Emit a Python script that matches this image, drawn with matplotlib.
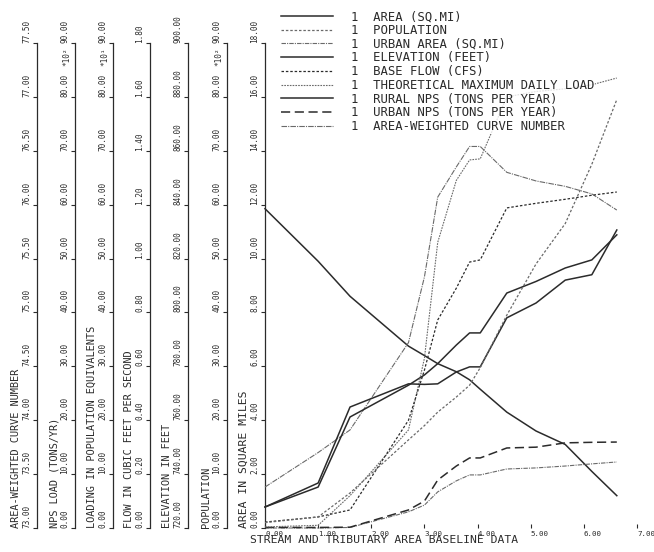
import matplotlib
matplotlib.use("Agg")
import matplotlib.pyplot as plt
import numpy as np
from matplotlib.lines import Line2D

plt.rcParams["font.family"] = ["DejaVu Sans Mono"]

# station positions along the stream (baseline data)
station = [0.0, 1.0, 1.6, 2.7, 3.0, 3.25, 3.6, 3.85, 4.05, 4.55, 5.1, 5.65, 6.15, 6.62]

area_sqmi = [11.85, 9.9, 8.6, 6.75, 6.4, 6.1, 5.8, 5.5, 5.15, 4.3, 3.6, 3.1, 2.1, 1.2]
population_x100 = [1.0, 2.05, 6.5, 16.35, 19.0, 21.5, 24.3, 26.5, 29.75, 39.5, 49.0, 56.5, 67.5, 79.5]
urban_area_sqmi = [0.0, 0.0, 0.02, 0.6, 0.85, 1.34, 1.75, 1.97, 1.97, 2.19, 2.23, 2.3, 2.38, 2.45]
elevation_ft = [727.8, 736.7, 764.9, 773.5, 773.3, 773.5, 777.9, 779.8, 779.8, 798.0, 803.5, 812.0, 814.0, 830.6]
base_flow_cfs = [0.022, 0.041, 0.067, 0.40, 0.586, 0.772, 0.89, 0.987, 0.995, 1.188, 1.205, 1.22, 1.235, 1.247]
tmdl_pe_x10 = [0.2, 0.5, 6.0, 18.2, 31.5, 53.0, 64.5, 68.3, 68.5, 80.0, 81.0, 81.5, 82.25, 83.5]
rural_nps_x100 = [3.9, 7.6, 20.6, 26.5, 28.4, 30.5, 33.95, 36.2, 36.2, 43.6, 45.75, 48.25, 49.75, 54.4]
urban_nps_x100 = [0.1, 0.1, 0.15, 3.35, 5.0, 8.9, 11.5, 13.0, 13.0, 14.85, 15.0, 15.8, 15.9, 15.95]
curve_number = [73.38, 73.70, 73.91, 74.72, 75.33, 76.07, 76.35, 76.54, 76.54, 76.30, 76.22, 76.17, 76.10, 75.95]

legend_labels = [
    "AREA (SQ.MI)",
    "POPULATION",
    "URBAN AREA (SQ.MI)",
    "ELEVATION (FEET)",
    "BASE FLOW (CFS)",
    "THEORETICAL MAXIMUM DAILY LOAD",
    "RURAL NPS (TONS PER YEAR)",
    "URBAN NPS (TONS PER YEAR)",
    "AREA-WEIGHTED CURVE NUMBER",
]

W, H = 654, 552
INK = "#2b2b2b"
GREY = "#6a6a6a"
TICK_FS = 5.6
TITLE_FS = 7.4

fig = plt.figure(figsize=(W / 100, H / 100), dpi=100)
ax_left, ax_bottom, ax_w, ax_h = 265, 24, 372, 485
ax = fig.add_axes([ax_left / W, ax_bottom / H, ax_w / W, ax_h / H])
ax.patch.set_visible(False)


def style_yaxis(a, lo, hi, title, spine_px=None, expo=None):
    a.set_ylim(lo, hi)
    a.set_yticks(np.linspace(lo, hi, 10))
    a.yaxis.set_major_formatter(matplotlib.ticker.FormatStrFormatter("%.2f"))
    a.yaxis.set_ticks_position("left")
    a.yaxis.set_label_position("left")
    a.tick_params(axis="y", direction="out", length=3, width=0.8, pad=1,
                  labelsize=TICK_FS, colors=INK)
    for s in ("top", "right", "bottom"):
        a.spines[s].set_visible(False)
    a.spines["left"].set_linewidth(0.9)
    a.spines["left"].set_color(INK)
    if spine_px is not None:
        a.spines["left"].set_position(("axes", (spine_px - ax_left) / ax_w))
    a.set_ylabel(title, loc="bottom", fontsize=TITLE_FS, color=INK, labelpad=1)
    if expo is not None:
        xf = ((spine_px if spine_px is not None else ax_left) - ax_left - 4) / ax_w
        a.text(xf, 0.952, "*10" + expo, transform=a.transAxes, rotation=90,
               ha="right", va="bottom", fontsize=TICK_FS, color=INK)


# main axis: area in square miles
ax.set_xlim(0, 7)
ax.set_xticks(np.arange(0, 8))
ax.xaxis.set_major_formatter(matplotlib.ticker.FormatStrFormatter("%.2f"))
ax.tick_params(axis="x", direction="in", length=3, width=0.8, pad=2,
               labelsize=5.4, colors=INK)
ax.spines["bottom"].set_linewidth(0.9)
ax.spines["bottom"].set_color(INK)
ax.set_xlabel("STREAM AND TRIBUTARY AREA BASELINE DATA", fontsize=8.2, color=INK,
              loc="left", labelpad=-1)
ax.xaxis.label.set_x(-0.04)
style_yaxis(ax, 0, 18, "AREA IN SQUARE MILES")
ax.yaxis.label.set_fontsize(8.2)


def twin(lo, hi, title, spine_px, expo=None):
    t = ax.twinx()
    t.patch.set_visible(False)
    style_yaxis(t, lo, hi, title, spine_px, expo)
    return t


ax_cn = twin(73.0, 77.5, "AREA-WEIGHTED CURVE NUMBER", 37)
ax_nps = twin(0, 90, "NPS LOAD (TONS/YR)", 75, "²")
ax_pe = twin(0, 90, "LOADING IN POPULATION EQUIVALENTS", 113, "¹")
ax_flow = twin(0, 1.8, "FLOW IN CUBIC FEET PER SECOND", 150)
ax_elev = twin(720, 900, "ELEVATION IN FEET", 188)
ax_pop = twin(0, 90, "POPULATION", 227, "²")

# series, each on its own scale
styles = [
    dict(color=INK, lw=1.1, ls="-"),
    dict(color=GREY, lw=0.9, ls=(0, (2, 1.5))),
    dict(color=GREY, lw=0.8, ls=(0, (4, 1, 1, 1))),
    dict(color=INK, lw=1.1, ls="-"),
    dict(color=INK, lw=0.9, ls=(0, (2, 1.5))),
    dict(color=GREY, lw=0.8, ls=(0, (1.5, 1))),
    dict(color=INK, lw=1.1, ls="-"),
    dict(color=INK, lw=1.1, ls=(0, (6, 3))),
    dict(color=GREY, lw=0.8, ls=(0, (5, 1, 1, 1))),
]
series = [
    (ax, area_sqmi),
    (ax_pop, population_x100),
    (ax, urban_area_sqmi),
    (ax_elev, elevation_ft),
    (ax_flow, base_flow_cfs),
    (ax_pe, tmdl_pe_x10),
    (ax_nps, rural_nps_x100),
    (ax_nps, urban_nps_x100),
    (ax_cn, curve_number),
]
for (a, vals), st in zip(series, styles):
    a.plot(station, vals, clip_on=False, **st)

handles = [Line2D([], [], **st) for st in styles]
labels = ["1  " + s for s in legend_labels]
leg = fig.legend(handles, labels, loc="upper left",
                 bbox_to_anchor=(280 / W, 1 - 9 / H), frameon=True,
                 fontsize=8.8, handlelength=4.2, handletextpad=1.5,
                 labelspacing=0.06, borderpad=0.1, borderaxespad=0)
leg.get_frame().set_facecolor("white")
leg.get_frame().set_edgecolor("none")
for t in leg.get_texts():
    t.set_color(INK)

# rotate the tick labels once the ticks exist
fig.canvas.draw()
for a in (ax, ax_cn, ax_nps, ax_pe, ax_flow, ax_elev, ax_pop):
    for tk in a.yaxis.get_major_ticks():
        tk.label1.set_rotation(90)
        tk.label1.set_va("bottom")
        tk.label1.set_ha("right")
for tk in ax.xaxis.get_major_ticks():
    tk.label1.set_ha("left")

fig.savefig("out.png", dpi=100)
